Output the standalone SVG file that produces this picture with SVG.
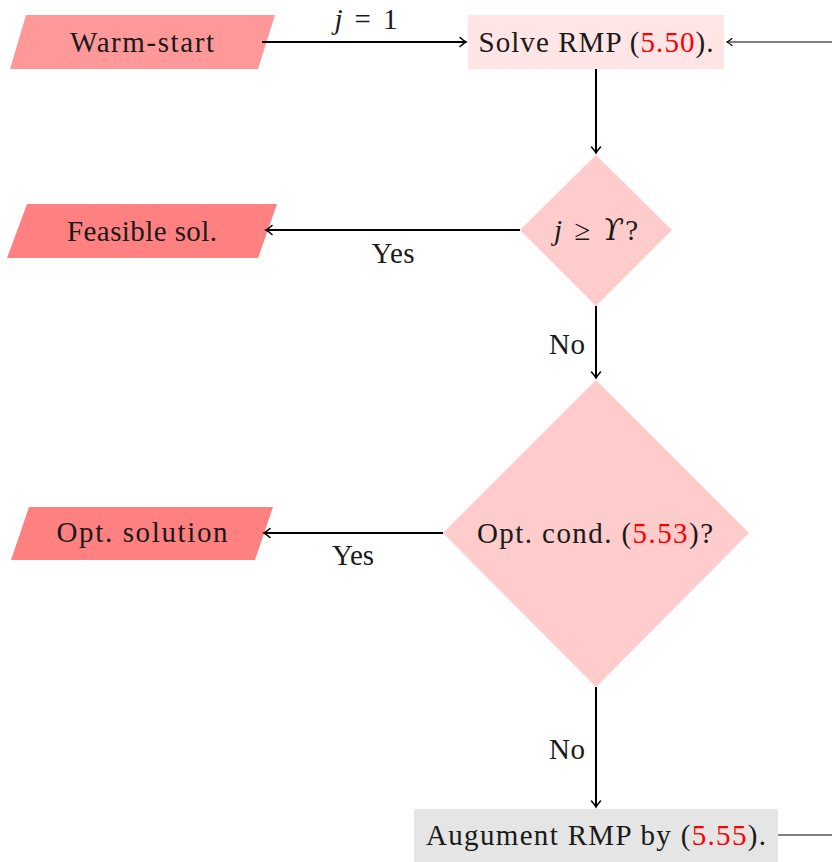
<svg xmlns="http://www.w3.org/2000/svg" width="832" height="862" viewBox="0 0 832 862">
<defs>
<style>
text{font-family:"Liberation Serif","DejaVu Serif",serif;font-size:29px;fill:#1a1a1a;text-anchor:middle;dominant-baseline:central}
.ref{fill:#ff0000}
.m{font-style:italic}
.c{fill:none;stroke:#000;stroke-width:2}
.thin{fill:none;stroke:#000;stroke-width:1}
</style>
<marker id="ah" markerWidth="12" markerHeight="12" viewBox="-8 -6 10 12" refX="0" refY="0" orient="auto" markerUnits="userSpaceOnUse">
<path d="M-6,-4.5 Q-2,-1 0,0 Q-2,1 -6,4.5" fill="none" stroke="#000" stroke-width="1.6" stroke-linecap="round"/>
</marker>
<marker id="ah2" markerWidth="12" markerHeight="12" viewBox="-8 -6 10 12" refX="0" refY="0" orient="auto" markerUnits="userSpaceOnUse">
<path d="M-5,-3.5 Q-2,-1 0,0 Q-2,1 -5,3.5" fill="none" stroke="#000" stroke-width="1.1" stroke-linecap="round"/>
</marker>
</defs>

<g id="warm-start">
<polygon points="26,15 275,15 258,69 10,69" fill="#ff9999"/>
<text x="142" y="42" textLength="144" lengthAdjust="spacing">Warm-start</text>
</g>
<g id="solve-rmp">
<rect x="468" y="15" width="256" height="54" fill="#ffe5e5"/>
<text x="596" y="42" textLength="235" lengthAdjust="spacing">Solve RMP (<tspan class="ref">5.50</tspan>).</text>
</g>
<g id="check-j">
<polygon points="596,155 672,230 596,306 520,230" fill="#ffcccc"/>
<text x="596" y="230" textLength="84" lengthAdjust="spacing"><tspan class="m">j</tspan> ≥ <tspan class="m" font-family="DejaVu Serif">ϒ</tspan>?</text>
</g>
<g id="feasible-sol">
<polygon points="27,204 277,204 258,258 7,258" fill="#ff8080"/>
<text x="142" y="231" textLength="150" lengthAdjust="spacing">Feasible sol.</text>
</g>
<g id="opt-cond">
<polygon points="596,380 749,533 596,687 443,533" fill="#ffcccc"/>
<text x="595" y="533" textLength="236" lengthAdjust="spacing">Opt. cond. (<tspan class="ref">5.53</tspan>)?</text>
</g>
<g id="opt-solution">
<polygon points="29,507 273,507 255,560 11,560" fill="#ff8080"/>
<text x="142" y="532" textLength="171" lengthAdjust="spacing">Opt. solution</text>
</g>
<g id="augment-rmp">
<rect x="414" y="809" width="364" height="60" fill="#e5e5e5"/>
<text x="596" y="835" textLength="340" lengthAdjust="spacing">Augument RMP by (<tspan class="ref">5.55</tspan>).</text>
</g>

<g id="connectors">
<line class="c" x1="262" y1="42" x2="466" y2="42" marker-end="url(#ah)"/>
<text x="366" y="19" textLength="63" lengthAdjust="spacing"><tspan class="m">j</tspan> = 1</text>
<line class="thin" x1="832" y1="42" x2="727" y2="42" marker-end="url(#ah2)"/>
<line class="c" x1="596" y1="69" x2="596" y2="153" marker-end="url(#ah)"/>
<line class="c" x1="520" y1="230" x2="266" y2="230" marker-end="url(#ah)"/>
<text x="393" y="253" textLength="43" lengthAdjust="spacing">Yes</text>
<line class="c" x1="596" y1="306" x2="596" y2="378" marker-end="url(#ah)"/>
<text x="567" y="344" textLength="36" lengthAdjust="spacing">No</text>
<line class="c" x1="443" y1="533" x2="264" y2="533" marker-end="url(#ah)"/>
<text x="353" y="555" textLength="42" lengthAdjust="spacing">Yes</text>
<line class="c" x1="596" y1="687" x2="596" y2="807" marker-end="url(#ah)"/>
<text x="567" y="749" textLength="36" lengthAdjust="spacing">No</text>
<line class="thin" x1="778" y1="835" x2="832" y2="835"/>
</g>
</svg>
